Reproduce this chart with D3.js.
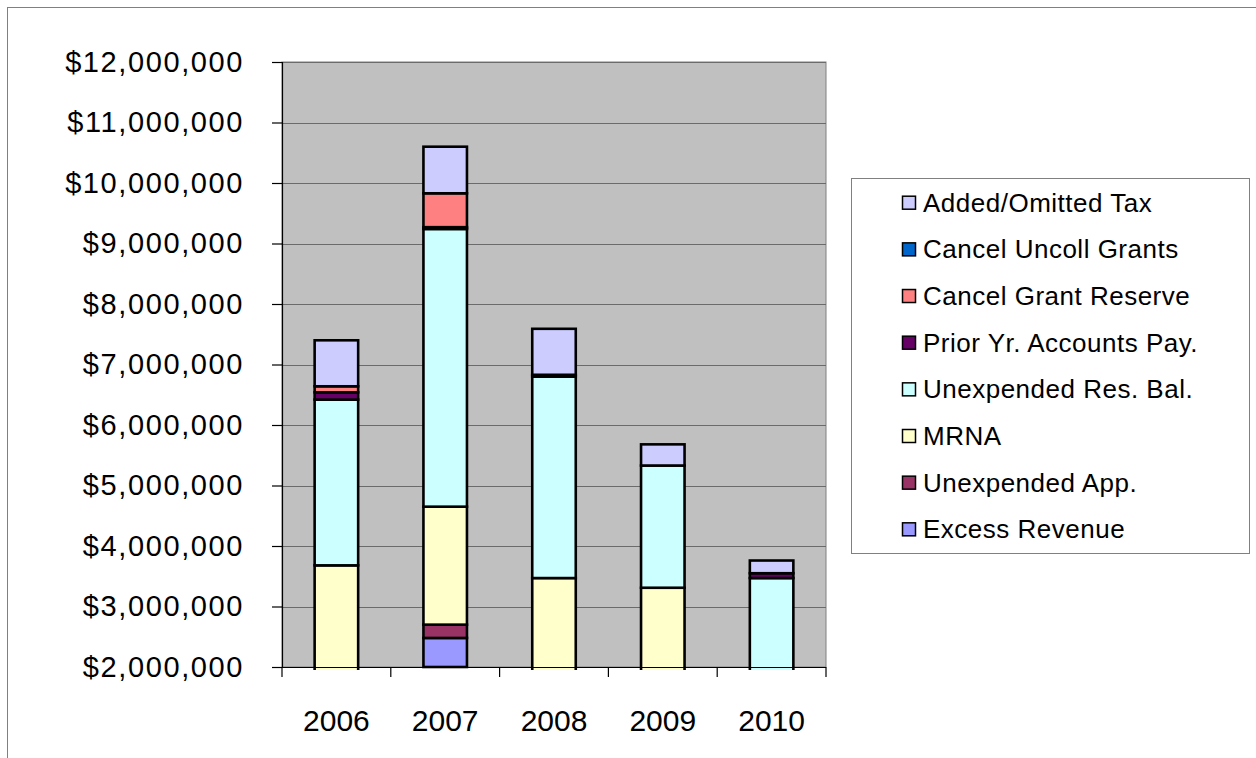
<!DOCTYPE html>
<html>
<head>
<meta charset="utf-8">
<script src="https://cdn.jsdelivr.net/npm/d3@7"></script>
<style>
  html, body { margin: 0; padding: 0; background: #fff; }
  svg { display: block; font-family: "Liberation Sans", Arial, sans-serif; }
</style>
</head>
<body>
<svg id="chart" width="1256" height="758"></svg>
<script>
// ---- data ----
const years = ["2006", "2007", "2008", "2009", "2010"];
const seriesNames = ["Excess Revenue", "Unexpended App.", "MRNA", "Unexpended Res. Bal.",
  "Prior Yr. Accounts Pay.", "Cancel Grant Reserve", "Cancel Uncoll Grants", "Added/Omitted Tax"];
const seriesColors = ["#9999FF", "#993366", "#FFFFCC", "#CCFFFF", "#660066", "#FF8080", "#0066CC", "#CCCCFF"];
const excessRevenue      = [0, 2480000, 0, 0, 0];
const unexpendedApp      = [0, 220000, 0, 0, 0];
const mrna               = [3680000, 1950000, 3470000, 3310000, 0];
const unexpendedResBal   = [2740000, 4590000, 3330000, 2020000, 3470000];
const priorYrAccountsPay = [120000, 30000, 30000, 0, 80000];
const cancelGrantReserve = [100000, 560000, 0, 0, 0];
const cancelUncollGrants = [0, 0, 0, 0, 0];
const addedOmittedTax    = [760000, 770000, 760000, 350000, 210000];
const yTickValues = [2000000, 3000000, 4000000, 5000000, 6000000, 7000000, 8000000, 9000000, 10000000, 11000000, 12000000];

const seriesValues = [excessRevenue, unexpendedApp, mrna, unexpendedResBal,
  priorYrAccountsPay, cancelGrantReserve, cancelUncollGrants, addedOmittedTax];

const rows = years.map((y, i) => {
  const r = { year: y };
  seriesNames.forEach((s, k) => { r[s] = seriesValues[k][i]; });
  return r;
});

// ---- layout ----
const svg = d3.select("#chart");
const plot = { left: 282, right: 826, top: 62, bottom: 667 };
const yMin = 2000000, yMax = 12000000;

// outer chart border
svg.append("rect")
  .attr("x", 7.5).attr("y", 7.5).attr("width", 1400).attr("height", 900)
  .attr("fill", "#fff").attr("stroke", "#808080").attr("stroke-width", 1);

const x = d3.scaleBand().domain(years).range([plot.left, plot.right])
  .paddingInner(0.6).paddingOuter(0.3);
const y = d3.scaleLinear().domain([yMin, yMax]).range([plot.bottom, plot.top]);

// plot background
svg.append("rect")
  .attr("x", plot.left).attr("y", plot.top)
  .attr("width", plot.right - plot.left).attr("height", plot.bottom - plot.top)
  .attr("fill", "#C0C0C0").attr("stroke", "#808080").attr("stroke-width", 1);

// gridlines
svg.append("g").selectAll("line").data(yTickValues).join("line")
  .attr("x1", plot.left).attr("x2", plot.right)
  .attr("y1", d => Math.round(y(d)) + 0.5).attr("y2", d => Math.round(y(d)) + 0.5)
  .attr("stroke", "#6b6b6b").attr("stroke-width", 1.2);

// clip for bars
svg.append("defs").append("clipPath").attr("id", "plotClip")
  .append("rect").attr("x", plot.left).attr("y", plot.top - 5)
  .attr("width", plot.right - plot.left).attr("height", plot.bottom - plot.top + 8);

const stack = d3.stack().keys(seriesNames);
const stacked = stack(rows);

const barsG = svg.append("g").attr("clip-path", "url(#plotClip)");
stacked.forEach((layer, k) => {
  barsG.append("g").selectAll("rect")
    .data(layer.filter(d => d[1] - d[0] > 0))
    .join("rect")
    .attr("x", d => x(d.data.year))
    .attr("width", x.bandwidth())
    .attr("y", d => y(d[1]))
    .attr("height", d => {
      // first series grows from the axis minimum (as Excel draws it);
      // others below the minimum are clipped at the axis
      const bottom = (k === 0) ? y(Math.max(d[0], yMin))
        : (d[0] < yMin ? plot.bottom + 12 : y(d[0]));
      return Math.max(0, bottom - y(d[1]));
    })
    .attr("fill", seriesColors[k])
    .attr("stroke", "#000")
    .attr("stroke-width", 2.6);
});

// y axis
const yAxis = d3.axisLeft(y).tickValues(yTickValues).tickSize(10).tickPadding(28)
  .tickFormat(d => "$" + d3.format(",")(d));
const yG = svg.append("g").attr("transform", `translate(${plot.left},0)`).call(yAxis);
yG.select(".domain").attr("stroke", "#000").attr("stroke-width", 1.2);
yG.selectAll(".tick line").attr("stroke", "#000").attr("stroke-width", 1.2);
yG.selectAll(".tick text")
  .attr("fill", "#000").style("font-size", "29px").style("letter-spacing", "1.6px")
  .attr("font-family", "Liberation Sans, Arial, sans-serif");

// x axis
const xAxisG = svg.append("g");
xAxisG.append("line")
  .attr("x1", plot.left).attr("x2", plot.right)
  .attr("y1", plot.bottom + 0.5).attr("y2", plot.bottom + 0.5)
  .attr("stroke", "#000").attr("stroke-width", 1.2);
const boundaries = d3.range(years.length + 1).map(i => plot.left + i * x.step());
xAxisG.selectAll("line.tk").data(boundaries).join("line").attr("class", "tk")
  .attr("x1", d => d).attr("x2", d => d)
  .attr("y1", plot.bottom).attr("y2", plot.bottom + 10)
  .attr("stroke", "#000").attr("stroke-width", 1.2);
xAxisG.selectAll("text").data(years).join("text")
  .attr("x", d => x(d) + x.bandwidth() / 2)
  .attr("y", 731)
  .attr("text-anchor", "middle")
  .style("font-size", "30px")
  .attr("fill", "#000")
  .text(d => d);

// legend
const legend = svg.append("g");
legend.append("rect")
  .attr("x", 851.5).attr("y", 178.5).attr("width", 398).attr("height", 375)
  .attr("fill", "#fff").attr("stroke", "#808080").attr("stroke-width", 1);
const legendItems = seriesNames.map((s, k) => ({ name: s, color: seriesColors[k] })).reverse();
const li = legend.selectAll("g.item").data(legendItems).join("g").attr("class", "item")
  .attr("transform", (d, i) => `translate(0,${211.7 + i * 46.66})`);
li.append("rect")
  .attr("x", 902.5).attr("y", -15.5).attr("width", 13).attr("height", 13)
  .attr("fill", d => d.color).attr("stroke", "#000").attr("stroke-width", 1.5);
li.append("text")
  .attr("x", 923).attr("y", 0)
  .style("font-size", "26px").style("letter-spacing", "0.5px").attr("fill", "#000")
  .text(d => d.name);
</script>
</body>
</html>
